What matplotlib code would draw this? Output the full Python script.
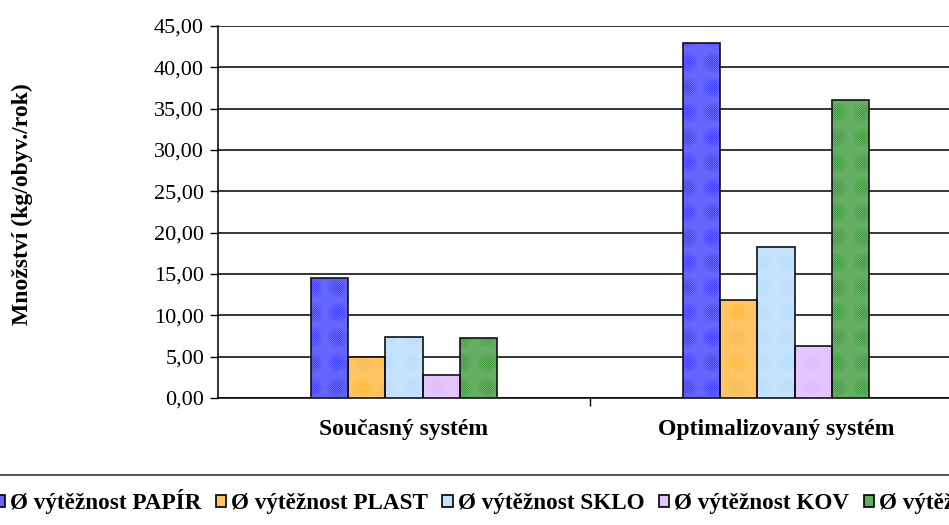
import numpy as np
import matplotlib.pyplot as plt
from matplotlib.patches import Patch
from matplotlib.ticker import FuncFormatter

plt.rcParams['font.family'] = ['Liberation Serif', 'DejaVu Serif']
plt.rcParams['hatch.linewidth'] = 0.6

# Data
systems = ['Současný systém', 'Optimalizovaný systém']
series = ['Ø výtěžnost PAPÍR', 'Ø výtěžnost PLAST', 'Ø výtěžnost SKLO',
          'Ø výtěžnost KOV', 'Ø výtěžnost BIO']
papir = [14.5, 43.0]
plast = [4.9, 11.9]
sklo = [7.35, 18.3]
kov = [2.8, 6.35]
bio = [7.3, 36.0]
values = [papir, plast, sklo, kov, bio]

colors = ['#0000ff', '#ffa000', '#a0d0ff', '#d5a0ff', '#007a00']
hatch_col = (1, 1, 1, 0.4)

fig = plt.figure(figsize=(9.49, 5.25), dpi=100)
ax = fig.add_axes([0.2297, 0.2419, 0.784, 0.7086])

x = np.arange(len(systems))
w = 0.1
for i, (vals, c) in enumerate(zip(values, colors)):
    pos = x + (i - 2) * w
    # filled bars with a light cross-hatch on top
    ax.bar(pos, vals, w, color=c, edgecolor=hatch_col, linewidth=0,
           hatch='x' * 16, zorder=3)
    ax.bar(pos, vals, w, fill=False, edgecolor='#111111', linewidth=1.2, zorder=4)

ax.set_xlim(-0.5, 1.5)
ax.set_ylim(0, 45)
ax.set_yticks(np.arange(0, 46, 5))
ax.yaxis.set_major_formatter(FuncFormatter(lambda v, p: f'{v:.2f}'.replace('.', ',')))
ax.grid(axis='y', color='black', linewidth=1.1, zorder=1)
ax.set_axisbelow(True)

ax.set_xticks(x)
ax.set_xticklabels(systems, fontweight='bold', fontsize=17)
ax.set_xticks([0.5, 1.5], minor=True)
ax.tick_params(axis='x', which='major', length=0, pad=15)
ax.tick_params(axis='x', which='minor', length=6, width=1, direction='out')
ax.tick_params(axis='y', length=6, width=1, labelsize=16, pad=4)

for s in ['top', 'right']:
    ax.spines[s].set_visible(False)
ax.spines['left'].set_linewidth(1.1)
ax.spines['bottom'].set_linewidth(1.1)

fig.text(0.024, 0.611, 'Množství (kg/obyv./rok)', rotation=90, ha='center',
         va='center', fontweight='bold', fontsize=17)

# legend keys: coloured hatched square with a black border
handles = [(Patch(facecolor=c, edgecolor=hatch_col, hatch='x' * 16, linewidth=0),
            Patch(fill=False, edgecolor='black', linewidth=1.2))
           for c in colors]
leg = fig.legend(handles, series, loc='upper left', bbox_to_anchor=(-0.02, 0.0952),
                 ncol=5, frameon=True, fancybox=False, edgecolor='black',
                 prop={'weight': 'bold', 'size': 16.7}, handlelength=0.44,
                 handleheight=0.44, handletextpad=0.22, columnspacing=0.62,
                 borderaxespad=0, borderpad=0.6)
leg.get_frame().set_linewidth(1.2)

fig.savefig('out.png', dpi=100)
